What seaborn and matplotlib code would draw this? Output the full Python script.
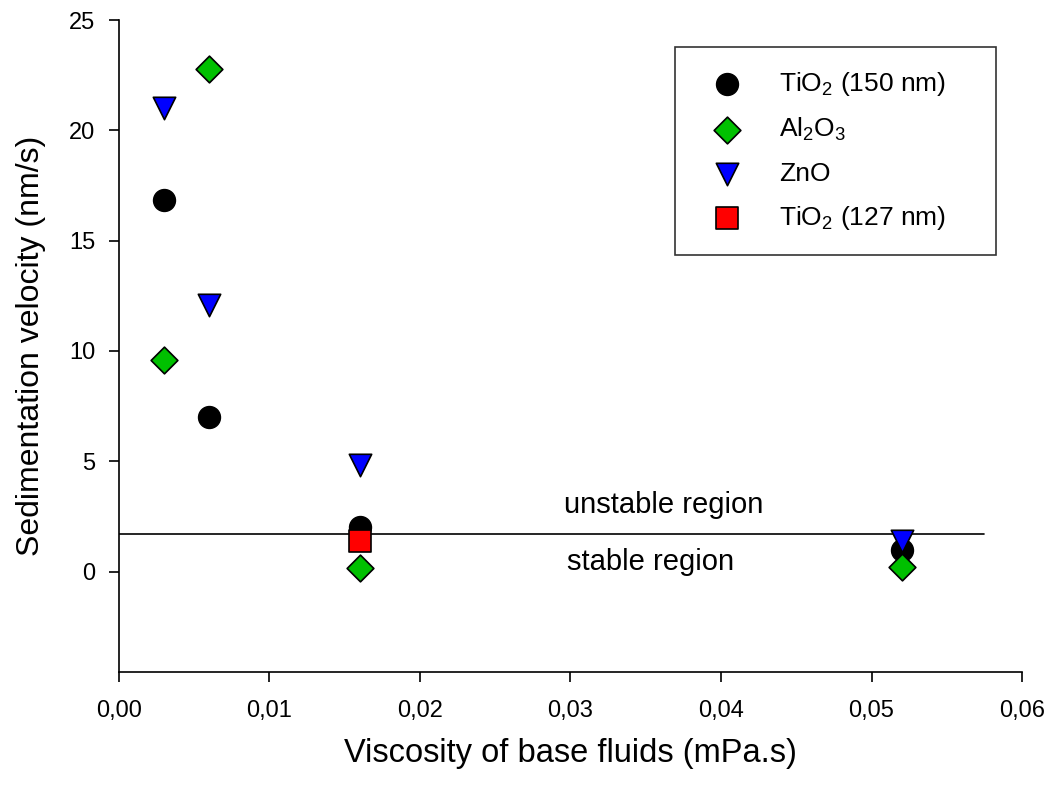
import matplotlib.pyplot as plt
import seaborn as sns

# viscosidade dos fluidos base (mPa.s) e velocidade de sedimentação (nm/s)
visc_tio2_150 = [0.003, 0.006, 0.016, 0.052]
vel_tio2_150 = [16.85, 7.02, 2.04, 1.0]

visc_al2o3 = [0.003, 0.006, 0.016, 0.052]
vel_al2o3 = [9.58, 22.78, 0.14, 0.22]

visc_zno = [0.003, 0.006, 0.016, 0.052]
vel_zno = [21.0, 12.08, 4.82, 1.38]

visc_tio2_127 = [0.016]
vel_tio2_127 = [1.4]

limite_estavel = 1.72
x_ticks = [0.0, 0.01, 0.02, 0.03, 0.04, 0.05, 0.06]
y_ticks = [0, 5, 10, 15, 20, 25]

sns.set_style("ticks")
plt.rcParams['font.family'] = ['Liberation Sans', 'DejaVu Sans']
plt.rcParams['mathtext.fontset'] = 'custom'
plt.rcParams['mathtext.rm'] = 'Liberation Sans'
plt.rcParams['text.color'] = 'black'
plt.rcParams['axes.labelcolor'] = 'black'

fig = plt.figure(figsize=(10.52, 7.85), dpi=100)
ax = fig.add_axes([0.1131, 0.144, 0.8584, 0.8305])

# linha que separa as regiões estável / instável
ax.plot([0, 0.0575], [limite_estavel, limite_estavel], color='black', lw=1.2, zorder=1)

sns.scatterplot(x=visc_tio2_150, y=vel_tio2_150, marker='o', s=250, color='black',
                edgecolor='black', linewidth=1, label='TiO$_2$ (150 nm)', ax=ax, zorder=3)
sns.scatterplot(x=visc_al2o3, y=vel_al2o3, marker='D', s=185, color='#00c000',
                edgecolor='black', linewidth=1.2, label='Al$_2$O$_3$', ax=ax, zorder=3)
sns.scatterplot(x=visc_zno, y=vel_zno, marker='v', s=260, color='#0000ff',
                edgecolor='black', linewidth=1.2, label='ZnO', ax=ax, zorder=4)
sns.scatterplot(x=visc_tio2_127, y=vel_tio2_127, marker='s', s=230, color='#ff0000',
                edgecolor='black', linewidth=1.2, label='TiO$_2$ (127 nm)', ax=ax, zorder=4)

ax.text(0.0362, 3.0, 'unstable region', fontsize=21, ha='center', va='center')
ax.text(0.03535, 0.42, 'stable region', fontsize=21, ha='center', va='center')

ax.set_xlim(0, 0.06)
ax.set_ylim(-4.55, 25)
ax.set_xticks(x_ticks)
ax.set_xticklabels([f'{v:.2f}'.replace('.', ',') for v in x_ticks])
ax.set_yticks(y_ticks)
ax.tick_params(direction='out', length=7, width=1.2, labelsize=17, colors='black')
ax.tick_params(axis='x', pad=13)
ax.tick_params(axis='y', pad=10)
for lado in ['left', 'bottom']:
    ax.spines[lado].set_linewidth(1.2)
    ax.spines[lado].set_color('black')
sns.despine(ax=ax)

ax.set_xlabel('Viscosity of base fluids (mPa.s)', fontsize=23.5, labelpad=12)
ax.set_ylabel('Sedimentation velocity (nm/s)', fontsize=23, labelpad=17)

# legenda esticada até a largura da caixa original
leg = ax.legend(loc='upper left', bbox_to_anchor=(0.6157, 0.6396, 0.3553, 0.3189),
                mode='expand', fontsize=19, frameon=True, fancybox=False,
                edgecolor='black', borderaxespad=0, handlelength=2.24,
                handletextpad=0.85, labelspacing=0.7, borderpad=0.85)
leg.get_frame().set_linewidth(1.2)

fig.savefig('out.png', dpi=100)
